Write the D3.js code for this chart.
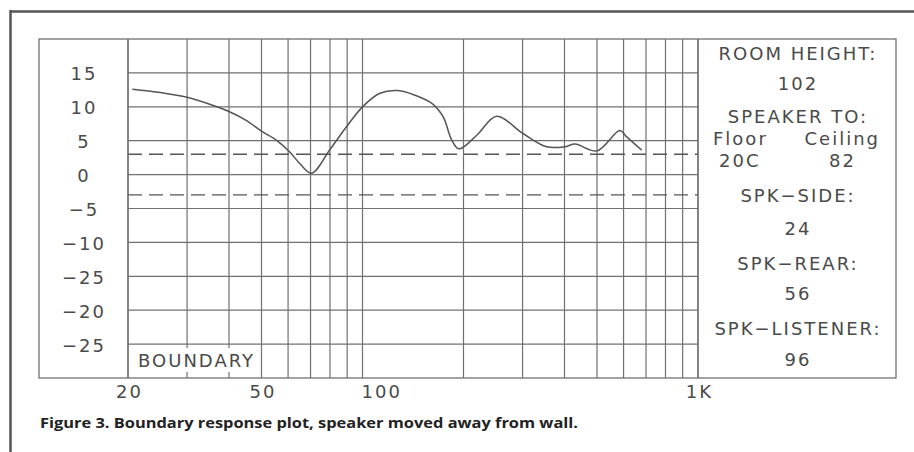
<!DOCTYPE html>
<html><head><meta charset="utf-8">
<script src="https://cdn.jsdelivr.net/npm/d3@7"></script>
<style>
html,body{margin:0;padding:0;background:#fff;}
svg{display:block;}
.cad{font-family:"DejaVu Sans",sans-serif;fill:#4a4a4a;letter-spacing:2px;}
</style></head>
<body>
<svg id="c" width="914" height="452"></svg>
<script>
// ---- data ----
const freqs = [20.6, 25, 30, 36.8, 40, 45, 50, 55.6, 60.8, 65.1, 70.5, 80, 89.7, 100.5, 112.7, 127.6, 143.4, 162, 174, 184.5, 194, 219, 251, 300, 354, 400, 430, 500, 585, 612, 680];
const response = [12.6, 12.1, 11.4, 10.0, 9.3, 8.0, 6.4, 5.0, 3.3, 1.6, 0.2, 3.7, 7.1, 10.1, 12.0, 12.4, 11.7, 10.4, 8.5, 5.1, 3.8, 5.8, 8.6, 6.1, 4.1, 4.1, 4.5, 3.5, 6.5, 5.6, 3.6];
const yTickValues = [15, 10, 5, 0, -5, -10, -15, -20, -25];
const yTickLabels = ["15", "10", "5", "0", "\u22125", "\u221210", "\u221225", "\u221220", "\u221225"];
const xGridValues = [20,30,40,50,60,70,80,90,100,200,300,400,500,600,700,800,900,1000];
const xTickValues = [20, 50, 100, 1000];
const xTickLabels = ["20", "50", "100", "1K"];
const bandLimits = [3, -3];
const panelLines = [
  {t:"ROOM HEIGHT:"}, {t:"102"}, {t:"SPEAKER TO:"}, null, null,
  {t:"SPK\u2212SIDE:"}, {t:"24"}, {t:"SPK\u2212REAR:"}, {t:"56"}, {t:"SPK\u2212LISTENER:"}, {t:"96"}
];
const floorCeilLabels = ["Floor", "Ceiling"];
const floorCeilValues = ["20C", "82"];
const caption = "Figure 3. Boundary response plot, speaker moved away from wall.";

// ---- layout ----
const svg = d3.select("#c");
const boxL = 39, boxR = 896, plotTop = 39, plotBottom = 378;
const plotL = 128, plotR = 698;
const x = d3.scaleLog().domain([20, 1000]).range([plotL, plotR]);
const y = d3.scaleLinear().domain([-30, 20]).range([plotBottom, plotTop]);
const gridCol = "#707070";
const fs = 18;

// outer page frame
svg.append("line").attr("x1",10).attr("x2",914).attr("y1",11.5).attr("y2",11.5).attr("stroke","#555").attr("stroke-width",2.5);
svg.append("line").attr("x1",10.5).attr("x2",10.5).attr("y1",10).attr("y2",452).attr("stroke","#555").attr("stroke-width",2.5);

// horizontal grid
svg.append("g").selectAll("line").data(yTickValues).join("line")
  .attr("x1", plotL).attr("x2", plotR)
  .attr("y1", d => y(d)).attr("y2", d => y(d))
  .attr("stroke", gridCol).attr("stroke-width", 1.2);

// vertical grid
svg.append("g").selectAll("line").data(xGridValues).join("line")
  .attr("x1", d => x(d)).attr("x2", d => x(d))
  .attr("y1", plotTop).attr("y2", plotBottom)
  .attr("stroke", gridCol).attr("stroke-width", 1.2);

// dashed tolerance lines
svg.append("g").selectAll("line").data(bandLimits).join("line")
  .attr("x1", plotL).attr("x2", plotR)
  .attr("y1", d => y(d)).attr("y2", d => y(d))
  .attr("stroke", "#555").attr("stroke-width", 1.3)
  .attr("stroke-dasharray", "14,7");

// boundary label box
svg.append("rect").attr("x", plotL + 1.5).attr("y", y(-25) + 4).attr("width", x(50) - plotL - 3).attr("height", plotBottom - y(-25) - 10).attr("fill", "#fff");
svg.append("text").attr("class","cad").attr("x", 138).attr("y", 367).attr("font-size", fs).text("BOUNDARY");

// outer chart box
svg.append("rect").attr("x", boxL).attr("y", plotTop).attr("width", boxR - boxL).attr("height", plotBottom - plotTop)
  .attr("fill", "none").attr("stroke", gridCol).attr("stroke-width", 1.3);
svg.append("line").attr("x1", plotL).attr("x2", plotL).attr("y1", plotTop).attr("y2", plotBottom).attr("stroke", gridCol).attr("stroke-width", 1.3);
svg.append("line").attr("x1", plotR).attr("x2", plotR).attr("y1", plotTop).attr("y2", plotBottom).attr("stroke", gridCol).attr("stroke-width", 1.3);

// response curve
const line = d3.line().x((d,i) => x(freqs[i])).y(d => y(d)).curve(d3.curveCatmullRom.alpha(0.5));
svg.append("path").attr("d", line(response)).attr("fill", "none").attr("stroke", "#555").attr("stroke-width", 1.5);

// y labels
svg.append("g").selectAll("text").data(yTickValues).join("text")
  .attr("class","cad").attr("font-size", fs).attr("text-anchor","middle")
  .attr("x", 84).attr("y", d => y(d) + 7.5).text((d,i) => yTickLabels[i]);

// x labels
svg.append("g").selectAll("text").data(xTickValues).join("text")
  .attr("class","cad").attr("font-size", fs)
  .attr("text-anchor", (d,i) => xTickLabels[i] === "100" ? "start" : "middle")
  .attr("x", (d,i) => x(d) + (xTickLabels[i] === "100" ? -1 : 1.5)).attr("y", 398)
  .text((d,i) => xTickLabels[i]);

// right panel
const cx = (plotR + boxR) / 2 + 1;
const baselines = [60, 90, 123, 145, 167, 202, 235, 270, 300, 335, 366];
panelLines.forEach((p, i) => {
  if (!p) return;
  svg.append("text").attr("class","cad").attr("font-size", fs).attr("text-anchor","middle")
    .attr("x", cx).attr("y", baselines[i]).text(p.t);
});
svg.append("text").attr("class","cad").attr("font-size",fs).attr("x",713).attr("y",145).text(floorCeilLabels[0]);
svg.append("text").attr("class","cad").attr("font-size",fs).attr("x",880).attr("y",145).attr("text-anchor","end").text(floorCeilLabels[1]);
svg.append("text").attr("class","cad").attr("font-size",fs).attr("x",719).attr("y",167).text(floorCeilValues[0]);
svg.append("text").attr("class","cad").attr("font-size",fs).attr("x",829).attr("y",167).text(floorCeilValues[1]);

// caption
svg.append("text").attr("x", 40).attr("y", 428)
  .attr("font-family", "'Open Sans', Lato, sans-serif").attr("font-weight", 700).attr("font-size", 14.5)
  .attr("fill", "#222").attr("textLength", 538).attr("lengthAdjust", "spacingAndGlyphs")
  .text(caption);
</script>
</body></html>
